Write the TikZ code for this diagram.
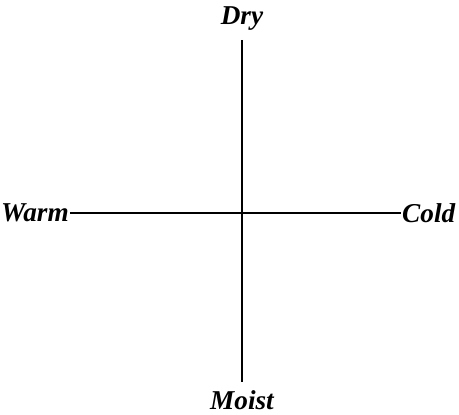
\documentclass[tikz,border=0pt]{standalone}
\usepackage{fontspec}
\setmainfont{Liberation Serif}
\usetikzlibrary{positioning}

\tikzset{
  pole/.style={font=\fontsize{15.5}{18}\selectfont\bfseries\itshape, text=black, inner sep=0.5pt},
  axis/.style={black, line width=1.1pt}
}

\begin{document}
\begin{tikzpicture}

% Frame
\useasboundingbox (0,0) rectangle (9.18,8.28);

% Poles
\node[pole, anchor=south] (dry) at (4.84,7.64) {Dry};
\node[pole, anchor=north] (moist) at (4.84,0.50) {Moist};
\node[pole, anchor=east] (warm) at (1.40,4.02) {Warm};
\node[pole, anchor=west] (cold) at (8.02,4.02) {Cold};

% Axes
\draw[axis] ([yshift=-0.16cm]dry.south) -- ([yshift=0.15cm]moist.north);
\draw[axis] (warm.east) -- (cold.west);

\end{tikzpicture}
\end{document}
